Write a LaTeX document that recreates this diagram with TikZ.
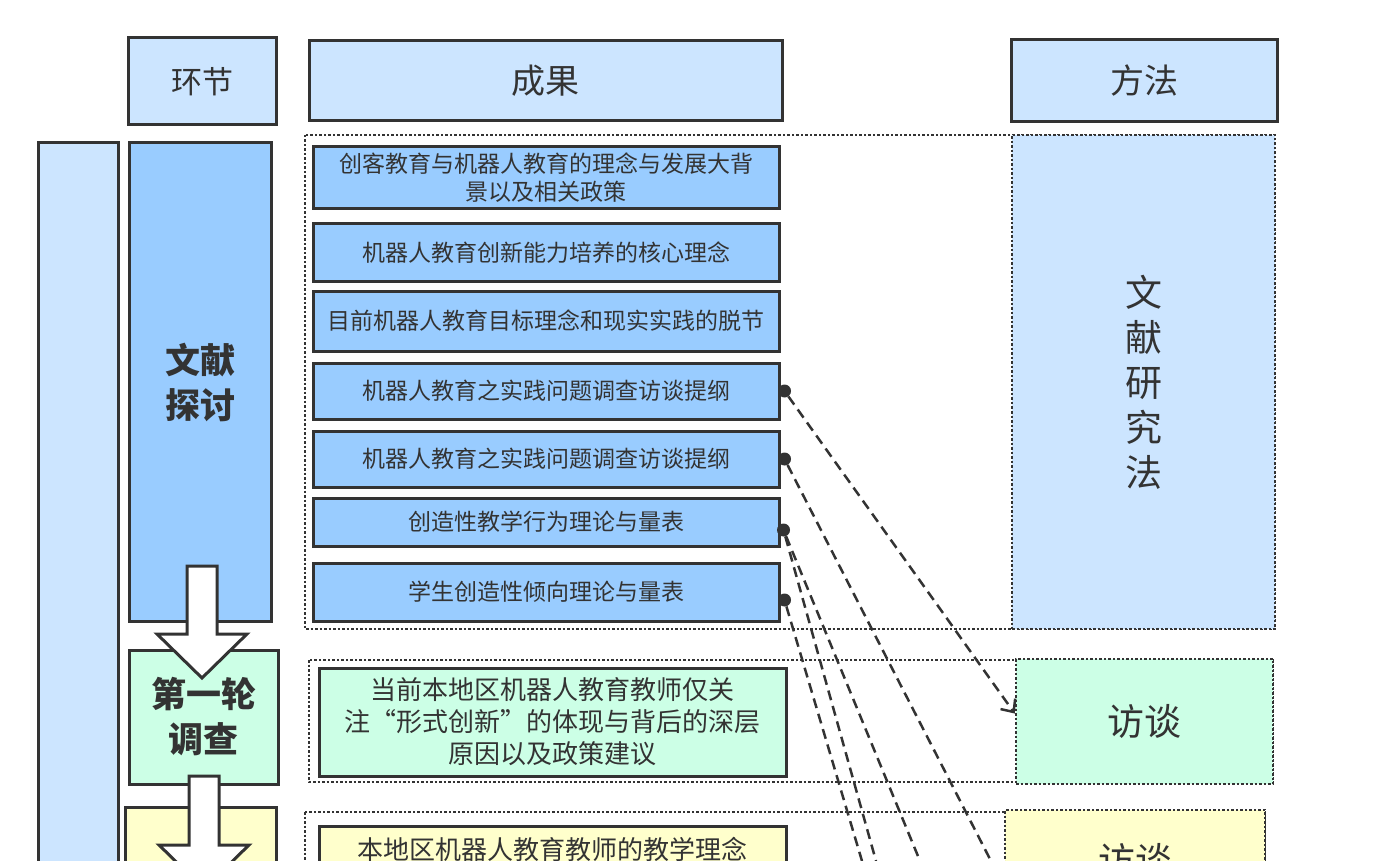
\documentclass[tikz,border=0pt]{standalone}
\usepackage{fontspec}
\setmainfont{Noto Sans CJK SC}
\usetikzlibrary{arrows.meta,positioning}
\definecolor{hdblue}{HTML}{CCE5FF}
\definecolor{itblue}{HTML}{99CCFF}
\definecolor{mint}{HTML}{CCFFE6}
\definecolor{lemon}{HTML}{FFFFCC}
\definecolor{ink}{HTML}{333333}
\tikzset{
  box/.style={draw=ink,text=ink,line width=3pt,inner sep=0pt,align=center},
  item/.style={box,fill=itblue,font=\fontsize{23}{27}\selectfont},
  grp/.style={draw=ink,line width=2.5pt,dotted},
  meth/.style={draw=ink,text=ink,line width=2.5pt,dotted,inner sep=0pt,align=center,font=\fontsize{37}{45}\selectfont},
  stage/.style={box,font=\bfseries\fontsize{35}{45}\selectfont},
  link/.style={ink,line width=2.5pt,dash pattern=on 10pt off 6pt},
  dot/.style={circle,fill=ink,inner sep=0pt,minimum size=13pt},
  bigarrow/.style={draw=ink,line width=3pt,fill=white}
}
\begin{document}
\begin{tikzpicture}[x=1pt,y=-1pt]
  \useasboundingbox (0,0) rectangle (1379,861);
  \clip (0,0) rectangle (1379,861);
  % column headers
  \node[box,fill=hdblue,minimum width=148pt,minimum height=87pt,font=\fontsize{31}{36}\selectfont] (hStage) at (202,81.5) {环节};
  \node[box,fill=hdblue,minimum width=473pt,minimum height=80pt,font=\fontsize{34}{38}\selectfont] (hResult) at (545.5,81) {成果};
  \node[box,fill=hdblue,minimum width=266pt,minimum height=82pt,font=\fontsize{34}{38}\selectfont] (hMethod) at (1144,81) {方法};
  % left bar
  \draw[box,fill=hdblue] (38,143) rectangle (118,900);
  % stage 1
  \draw[grp] (305,135) rectangle (1275,629);
  \node[meth,fill=hdblue,minimum width=263pt,minimum height=494pt] (mLit) at (1143.5,382) {文\\献\\研\\究\\法};
  \node[stage,fill=itblue,minimum width=142pt,minimum height=478pt] (sLit) at (200,382) {文献\\探讨};
  \node[item,minimum width=466pt,minimum height=62pt,font=\fontsize{23}{28}\selectfont] (r1) at (546,178) {创客教育与机器人教育的理念与发展大背\\景以及相关政策};
  \node[item,minimum width=466pt,minimum height=57pt] (r2) at (546,252.5) {机器人教育创新能力培养的核心理念};
  \node[item,minimum width=466pt,minimum height=60pt] (r3) at (546,321) {目前机器人教育目标理念和现实实践的脱节};
  \node[item,minimum width=466pt,minimum height=56pt] (r4) at (546,391) {机器人教育之实践问题调查访谈提纲};
  \node[item,minimum width=466pt,minimum height=56pt] (r5) at (546,459) {机器人教育之实践问题调查访谈提纲};
  \node[item,minimum width=466pt,minimum height=48pt] (r6) at (546,522) {创造性教学行为理论与量表};
  \node[item,minimum width=466pt,minimum height=58pt] (r7) at (546,592) {学生创造性倾向理论与量表};
  % stage 2
  \draw[grp] (309,660) rectangle (1273,782);
  \node[stage,fill=mint,minimum width=149pt,minimum height=134pt] (sFirst) at (203.5,717) {第一轮\\调查};
  \node[box,fill=mint,minimum width=467pt,minimum height=108pt,font=\fontsize{26}{32}\selectfont] (q1) at (552.5,722) {当前本地区机器人教育教师仅关\\注“形式创新”的体现与背后的深层\\原因以及政策建议};
  \node[meth,fill=mint,minimum width=257pt,minimum height=125pt] (mTalk) at (1144.5,721.5) {访谈};
  % stage 3
  \draw[grp] (305,812) rectangle (1265,960);
  \node[stage,fill=lemon,minimum width=151pt,minimum height=150pt] (sSecond) at (200.5,882) {};
  \node[box,fill=lemon,minimum width=467pt,minimum height=108pt,font=\fontsize{26}{32}\selectfont,anchor=north] (q2) at (552.5,825) {本地区机器人教育教师的教学理念\\ \\ };
  \node[meth,fill=lemon,minimum width=260pt,minimum height=100pt] (mTalkB) at (1135,860) {访谈};
  % stage arrows
  \draw[bigarrow] (187,566) -- (217,566) -- (217,634) -- (247,634) -- (202,678) -- (157,634) -- (187,634) -- cycle;
  \draw[bigarrow] (189,776) -- (219,776) -- (219,845) -- (249,845) -- (204,889) -- (159,845) -- (189,845) -- cycle;
  % links from results to methods
  \node[dot] (d4) at ([xshift=4pt]r4.east) {};
  \node[dot] (d5) at ([xshift=4pt]r5.east) {};
  \node[dot] (d6) at ([xshift=3pt,yshift=-8pt]r6.east) {};
  \node[dot] (d7) at ([xshift=4pt,yshift=-8pt]r7.east) {};
  \coordinate (e5) at (991,861);
  \coordinate (e6a) at (920,861);
  \coordinate (e6b) at (876,861);
  \coordinate (e7) at (862,861);
  \draw[link,-{Straight Barb[length=10pt,width=18pt]}] (d4) -- ([yshift=8pt]mTalk.west);
  \draw[link] (d5) -- (e5);
  \draw[link] (d6) -- (e6a);
  \draw[link] (d6) -- (e6b);
  \draw[link] (d7) -- (e7);
\end{tikzpicture}
\end{document}
